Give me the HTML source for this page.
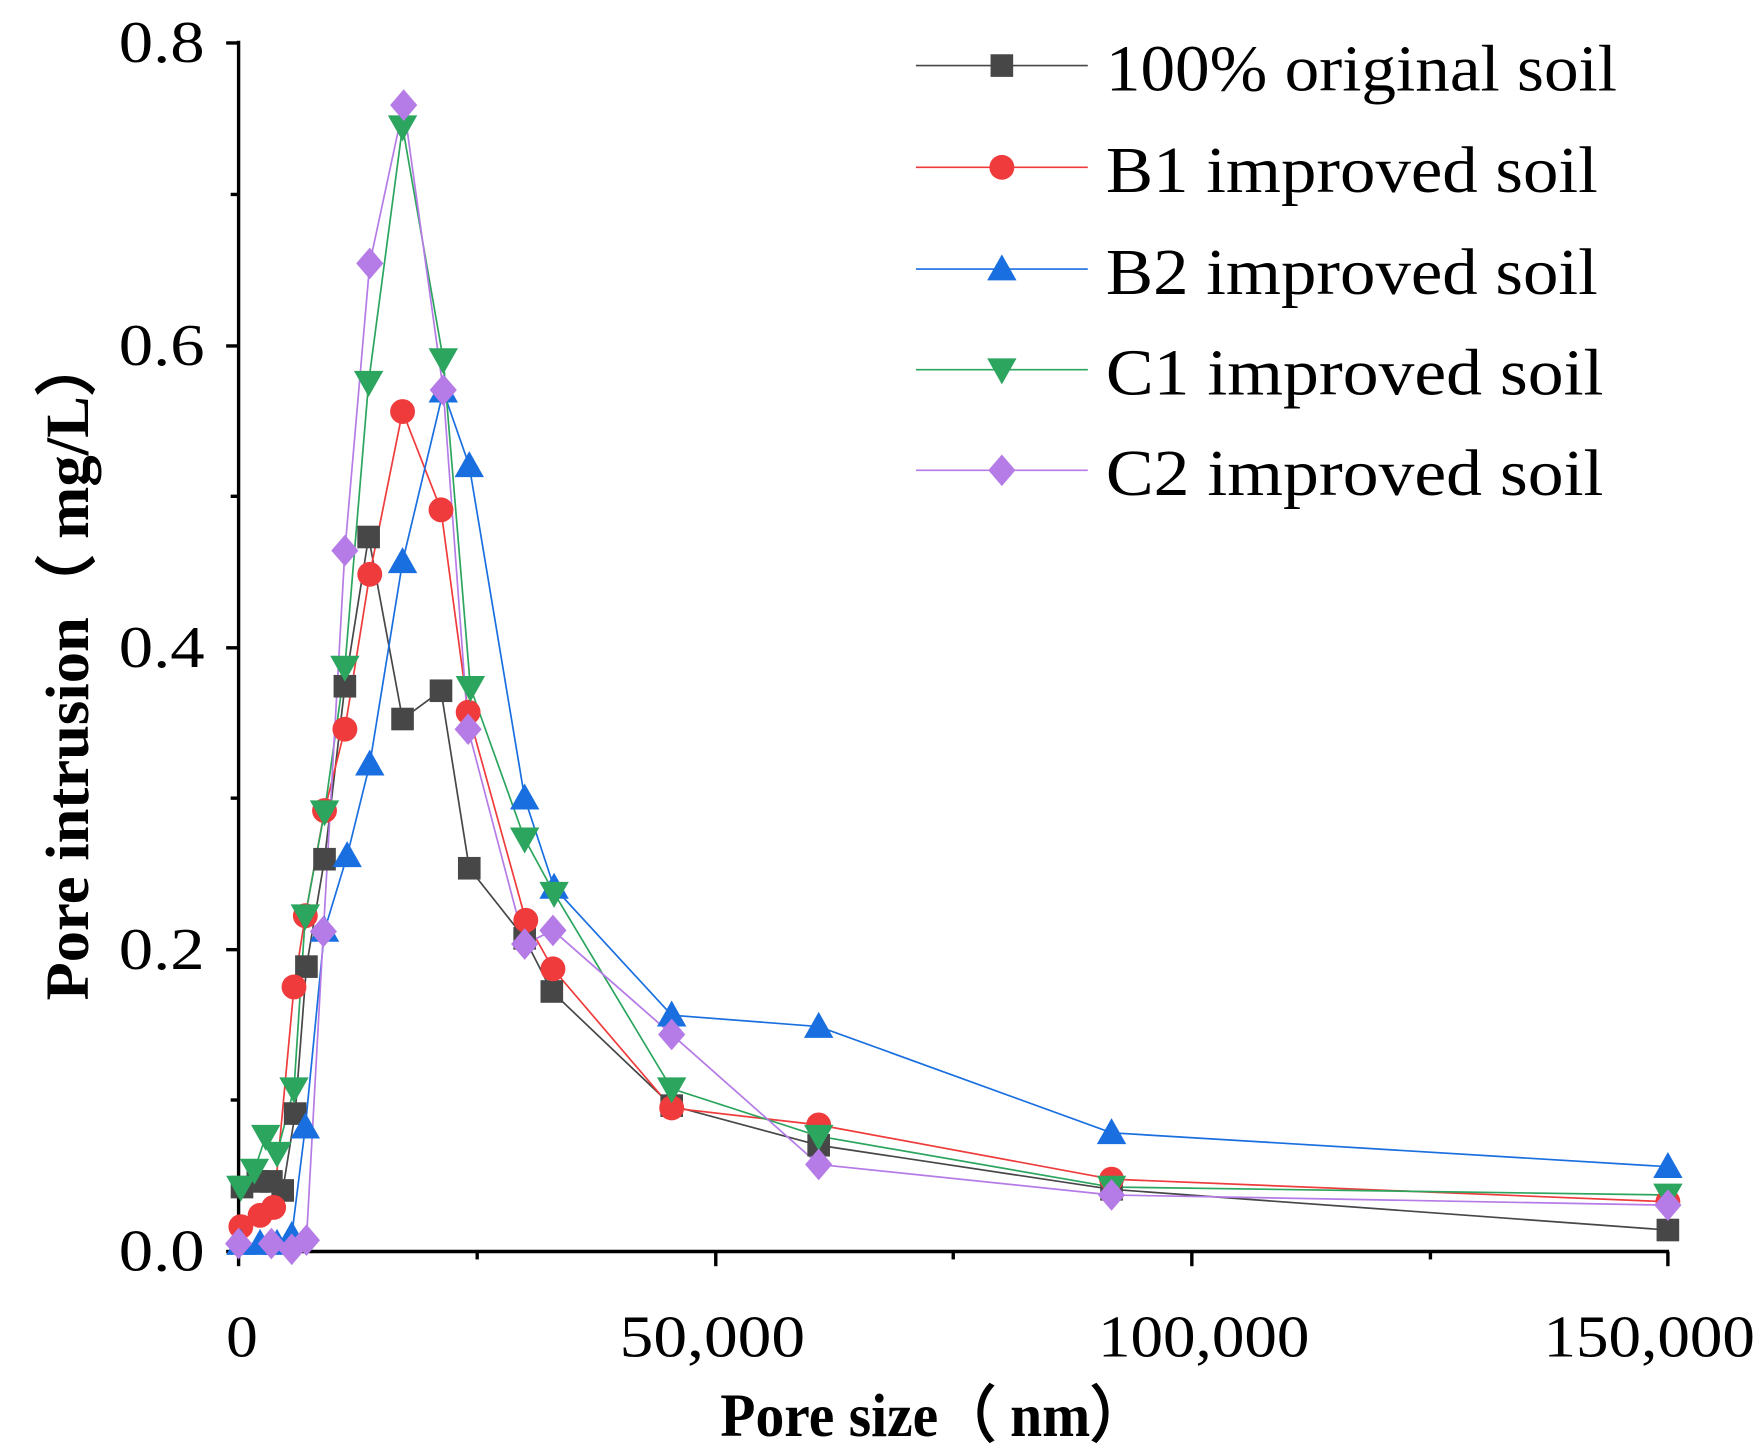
<!DOCTYPE html>
<html><head><meta charset="utf-8"><style>html,body{margin:0;padding:0;background:#fff}svg{display:block}</style></head><body>
<svg width="1764" height="1455" viewBox="0 0 1560 1287" preserveAspectRatio="none" xmlns="http://www.w3.org/2000/svg" font-family="Liberation Serif, serif">
<defs>
<g id="sq"><rect x="-10" y="-10" width="20" height="20" fill="#474747"/></g>
<g id="ci"><circle r="11" fill="#ef3b3b"/></g>
<g id="tu"><polygon points="0,-13 13,10 -13,10" fill="#1a6fe0"/></g>
<g id="td"><polygon points="0,13 13,-10 -13,-10" fill="#2ca55e"/></g>
<g id="di"><polygon points="0,-14 12,0 0,14 -12,0" fill="#b57be6"/></g>
</defs>
<g stroke="#000" stroke-width="3" fill="none">
<line x1="211" y1="36" x2="211" y2="1108"/>
<line x1="210" y1="1107" x2="1476" y2="1107"/>
<line x1="200" y1="1107" x2="211" y2="1107"/><line x1="200" y1="840" x2="211" y2="840"/><line x1="200" y1="573" x2="211" y2="573"/><line x1="200" y1="306" x2="211" y2="306"/><line x1="200" y1="38" x2="211" y2="38"/>
<line x1="204" y1="973" x2="211" y2="973"/><line x1="204" y1="706" x2="211" y2="706"/><line x1="204" y1="439" x2="211" y2="439"/><line x1="204" y1="172" x2="211" y2="172"/>
<line x1="211" y1="1107" x2="211" y2="1120"/><line x1="633" y1="1107" x2="633" y2="1120"/><line x1="1054" y1="1107" x2="1054" y2="1120"/><line x1="1475" y1="1107" x2="1475" y2="1120"/>
<line x1="422" y1="1107" x2="422" y2="1114"/><line x1="843" y1="1107" x2="843" y2="1114"/><line x1="1265" y1="1107" x2="1265" y2="1114"/>
</g>
<g font-size="52" fill="#000" lengthAdjust="spacingAndGlyphs">
<text x="105" y="1124" textLength="76" lengthAdjust="spacingAndGlyphs">0.0</text>
<text x="105" y="857" textLength="76" lengthAdjust="spacingAndGlyphs">0.2</text>
<text x="105" y="590" textLength="76" lengthAdjust="spacingAndGlyphs">0.4</text>
<text x="105" y="323" textLength="76" lengthAdjust="spacingAndGlyphs">0.6</text>
<text x="105" y="55" textLength="76" lengthAdjust="spacingAndGlyphs">0.8</text>
<text x="200" y="1200" textLength="28" lengthAdjust="spacingAndGlyphs">0</text>
<text x="548" y="1200" textLength="164" lengthAdjust="spacingAndGlyphs">50,000</text>
<text x="971" y="1200" textLength="187" lengthAdjust="spacingAndGlyphs">100,000</text>
<text x="1365" y="1200" textLength="187" lengthAdjust="spacingAndGlyphs">150,000</text>
</g>
<text x="637" y="1270" font-size="54" font-weight="bold" textLength="378" lengthAdjust="spacingAndGlyphs">Pore size（ nm）</text>
<text transform="translate(78,885) rotate(-90)" font-size="54" font-weight="bold" textLength="590" lengthAdjust="spacingAndGlyphs">Pore intrusion（ mg/L）</text>
<g fill="none" stroke-width="1.5">
<polyline stroke="#474747" points="214,1050 228,1045 240,1045 250,1053 261,985 271,855 287,760 305,607 326,475 356,636 390,611 415,768 464,830 488,877 594,978 724,1013 983,1052 1475,1088"/>
<polyline stroke="#ef3b3b" points="213,1085 230,1075 242,1068 260,873 270,810 287,717 305,645 327,508 356,364 390,451 414,630 465,814 489,857 594,980 724,995 983,1043 1475,1063"/>
<polyline stroke="#1a6fe0" points="213,1100 230,1100 245,1100 258,1093 270,997 287,823 307,757 327,676 356,497 392,346 415,412 464,706 490,785 594,898 724,908 983,1002 1475,1032"/>
<polyline stroke="#2ca55e" points="213,1050 225,1035 235,1005 245,1020 260,963 270,810 287,718 305,590 326,338 356,112 392,318 416,608 464,742 490,790 594,963 724,1005 983,1050 1475,1057"/>
<polyline stroke="#b57be6" points="211,1100 240,1100 258,1105 271,1097 286,824 305,487 327,233 357,93 392,345 414,645 464,835 489,823 594,915 724,1030 983,1057 1475,1066"/>
</g>
<g>
<use href="#sq" x="214" y="1050"/><use href="#sq" x="228" y="1045"/><use href="#sq" x="240" y="1045"/><use href="#sq" x="250" y="1053"/><use href="#sq" x="261" y="985"/><use href="#sq" x="271" y="855"/><use href="#sq" x="287" y="760"/><use href="#sq" x="305" y="607"/><use href="#sq" x="326" y="475"/><use href="#sq" x="356" y="636"/><use href="#sq" x="390" y="611"/><use href="#sq" x="415" y="768"/><use href="#sq" x="464" y="830"/><use href="#sq" x="488" y="877"/><use href="#sq" x="594" y="978"/><use href="#sq" x="724" y="1013"/><use href="#sq" x="983" y="1052"/><use href="#sq" x="1475" y="1088"/>
<use href="#ci" x="213" y="1085"/><use href="#ci" x="230" y="1075"/><use href="#ci" x="242" y="1068"/><use href="#ci" x="260" y="873"/><use href="#ci" x="270" y="810"/><use href="#ci" x="287" y="717"/><use href="#ci" x="305" y="645"/><use href="#ci" x="327" y="508"/><use href="#ci" x="356" y="364"/><use href="#ci" x="390" y="451"/><use href="#ci" x="414" y="630"/><use href="#ci" x="465" y="814"/><use href="#ci" x="489" y="857"/><use href="#ci" x="594" y="980"/><use href="#ci" x="724" y="995"/><use href="#ci" x="983" y="1043"/><use href="#ci" x="1475" y="1063"/>
<use href="#tu" x="213" y="1100"/><use href="#tu" x="230" y="1100"/><use href="#tu" x="245" y="1100"/><use href="#tu" x="258" y="1093"/><use href="#tu" x="270" y="997"/><use href="#tu" x="287" y="823"/><use href="#tu" x="307" y="757"/><use href="#tu" x="327" y="676"/><use href="#tu" x="356" y="497"/><use href="#tu" x="392" y="346"/><use href="#tu" x="415" y="412"/><use href="#tu" x="464" y="706"/><use href="#tu" x="490" y="785"/><use href="#tu" x="594" y="898"/><use href="#tu" x="724" y="908"/><use href="#tu" x="983" y="1002"/><use href="#tu" x="1475" y="1032"/>
<use href="#td" x="213" y="1050"/><use href="#td" x="225" y="1035"/><use href="#td" x="235" y="1005"/><use href="#td" x="245" y="1020"/><use href="#td" x="260" y="963"/><use href="#td" x="270" y="810"/><use href="#td" x="287" y="718"/><use href="#td" x="305" y="590"/><use href="#td" x="326" y="338"/><use href="#td" x="356" y="112"/><use href="#td" x="392" y="318"/><use href="#td" x="416" y="608"/><use href="#td" x="464" y="742"/><use href="#td" x="490" y="790"/><use href="#td" x="594" y="963"/><use href="#td" x="724" y="1005"/><use href="#td" x="983" y="1050"/><use href="#td" x="1475" y="1057"/>
<use href="#di" x="211" y="1100"/><use href="#di" x="240" y="1100"/><use href="#di" x="258" y="1105"/><use href="#di" x="271" y="1097"/><use href="#di" x="286" y="824"/><use href="#di" x="305" y="487"/><use href="#di" x="327" y="233"/><use href="#di" x="357" y="93"/><use href="#di" x="392" y="345"/><use href="#di" x="414" y="645"/><use href="#di" x="464" y="835"/><use href="#di" x="489" y="823"/><use href="#di" x="594" y="915"/><use href="#di" x="724" y="1030"/><use href="#di" x="983" y="1057"/><use href="#di" x="1475" y="1066"/>
</g>
<g stroke-width="1.5">
<line x1="810" y1="58" x2="962" y2="58" stroke="#474747"/><use href="#sq" x="886" y="58"/>
<line x1="810" y1="148" x2="962" y2="148" stroke="#ef3b3b"/><use href="#ci" x="886" y="148"/>
<line x1="810" y1="238" x2="962" y2="238" stroke="#1a6fe0"/><use href="#tu" x="886" y="238"/>
<line x1="810" y1="327" x2="962" y2="327" stroke="#2ca55e"/><use href="#td" x="886" y="327"/>
<line x1="810" y1="416" x2="962" y2="416" stroke="#b57be6"/><use href="#di" x="886" y="416"/>
</g>
<g font-size="58" fill="#000">
<text x="978" y="80" textLength="452" lengthAdjust="spacingAndGlyphs">100% original soil</text>
<text x="978" y="170" textLength="435" lengthAdjust="spacingAndGlyphs">B1 improved soil</text>
<text x="978" y="260" textLength="435" lengthAdjust="spacingAndGlyphs">B2 improved soil</text>
<text x="978" y="349" textLength="440" lengthAdjust="spacingAndGlyphs">C1 improved soil</text>
<text x="978" y="438" textLength="440" lengthAdjust="spacingAndGlyphs">C2 improved soil</text>
</g>
</svg>
</body></html>
